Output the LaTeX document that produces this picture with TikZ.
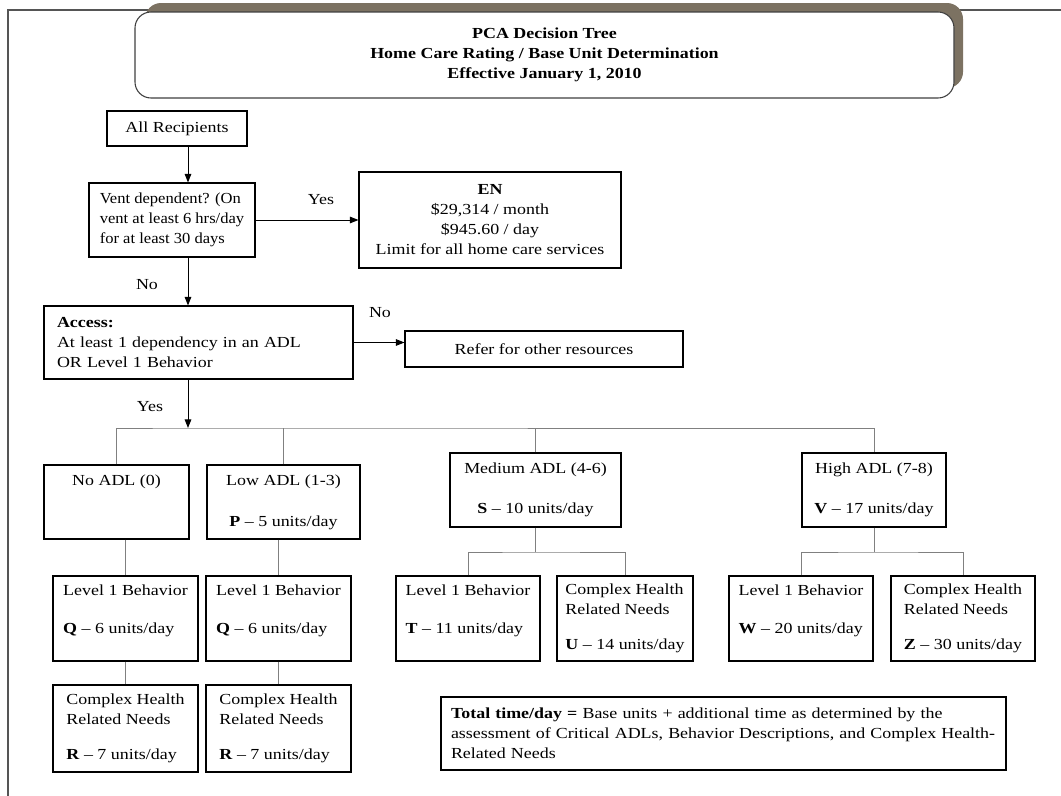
\documentclass[tikz,border=0pt]{standalone}
\usepackage{fontspec}
\setmainfont{Liberation Serif}[FakeStretch=1.17]
\newfontfamily\narrowserif{Liberation Serif}[FakeStretch=1.08]
\usetikzlibrary{arrows.meta}
\definecolor{treegray}{RGB}{128,128,128}
\definecolor{framegray}{RGB}{85,85,85}
\definecolor{shadowbrown}{RGB}{124,114,98}

\begin{document}
\begin{tikzpicture}[x=0.75pt,y=-0.75pt,
  font=\fontsize{11.5}{15}\selectfont,
  box/.style={draw,line width=0.8pt,inner sep=0pt,align=center},
  lbox/.style={box,align=left},
  arr/.style={line width=0.75pt,-{Triangle[length=6.5pt,width=5pt]}},
  tree/.style={treegray,line width=0.75pt}]
\useasboundingbox (0,0) rectangle (1061,796);

\draw[framegray,line width=1pt] (8,796) -- (8,10) -- (1061,10);

\fill[shadowbrown,rounded corners=12pt] (145,3) rectangle (963,88);
\node[draw=black!75,line width=0.8pt,fill=white,rounded corners=12pt,
  minimum width=614.25pt,minimum height=64.5pt,align=center,
  font=\fontsize{11.5}{15}\selectfont\bfseries] (title) at (544.5,55)
  {PCA Decision Tree\\Home Care Rating / Base Unit Determination\\Effective January 1, 2010};

\coordinate (trunk) at (188,0);
\coordinate (split) at (188,428);
\coordinate (mfork) at (535.5,552);
\coordinate (hfork) at (874,552);

\node[box,minimum width=105pt,minimum height=26.25pt] (allr) at (177,128.5) {All Recipients};
\node[lbox,minimum width=124.5pt,minimum height=55.5pt,
  font=\narrowserif\fontsize{11.5}{15}\selectfont] (vent) at (172,220)
  {Vent dependent? (On\\vent at least 6 hrs/day\\for at least 30 days};
\node[box,minimum width=196.5pt,minimum height=72pt] (en) at (490,220)
  {\textbf{EN}\\\$29,314 / month\\\$945.60 / day\\Limit for all home care services};
\node[lbox,text width=212.25pt,inner xsep=9.75pt,minimum height=54.75pt] (access) at (198.5,342.5)
  {\textbf{Access:}\\At least 1 dependency in an ADL\\OR Level 1 Behavior};
\node[box,minimum width=208.5pt,minimum height=27pt] (refer) at (544,349) {Refer for other resources};

\node (yes1) at (321,200) {Yes};
\node (no1) at (147,285) {No};
\node (no2) at (380,313) {No};
\node (yes2) at (150,407) {Yes};

\node[box,minimum width=108.75pt,minimum height=55.5pt] (noadl) at (116.5,502)
  {No ADL (0)\\[15.75pt]\phantom{\textbf{P} \textendash{} 5 units/day}};
\node[box,minimum width=114.75pt,minimum height=55.5pt] (lowadl) at (283.5,502)
  {Low ADL (1-3)\\[15.75pt]\textbf{P} \textendash{} 5 units/day};
\node[box,minimum width=128.25pt,minimum height=55.5pt] (medadl) at (535.5,490)
  {Medium ADL (4-6)\\[15pt]\textbf{S} \textendash{} 10 units/day};
\node[box,minimum width=108pt,minimum height=55.5pt] (highadl) at (874,490)
  {High ADL (7-8)\\[15pt]\textbf{V} \textendash{} 17 units/day};

\node[lbox,minimum width=108.75pt,minimum height=63.75pt] (beh1) at (125.5,618.5)
  {Level 1 Behavior\\[13.5pt]\textbf{Q} \textendash{} 6 units/day\\[-1pt]\mbox{}};
\node[lbox,minimum width=108.75pt,minimum height=63.75pt] (beh2) at (278.5,618.5)
  {Level 1 Behavior\\[13.5pt]\textbf{Q} \textendash{} 6 units/day\\[-1pt]\mbox{}};
\node[lbox,minimum width=108.75pt,minimum height=65.25pt] (chr1) at (125.5,728.5)
  {Complex Health\\Related Needs\\[11pt]\textbf{R} \textendash{} 7 units/day};
\node[lbox,minimum width=108.75pt,minimum height=65.25pt] (chr2) at (278.5,728.5)
  {Complex Health\\Related Needs\\[11pt]\textbf{R} \textendash{} 7 units/day};
\node[lbox,minimum width=108pt,minimum height=63.75pt] (beht) at (468,618.5)
  {Level 1 Behavior\\[13.5pt]\textbf{T} \textendash{} 11 units/day\\[-1pt]\mbox{}};
\node[lbox,minimum width=102pt,minimum height=63.75pt] (chru) at (625,618.5)
  {Complex Health\\Related Needs\\[11pt]\textbf{U} \textendash{} 14 units/day};
\node[lbox,minimum width=108pt,minimum height=63.75pt] (behw) at (801,618.5)
  {Level 1 Behavior\\[13.5pt]\textbf{W} \textendash{} 20 units/day\\[-1pt]\mbox{}};
\node[lbox,minimum width=108pt,minimum height=63.75pt] (chrz) at (963,618.5)
  {Complex Health\\Related Needs\\[11pt]\textbf{Z} \textendash{} 30 units/day};

\node[lbox,text width=408.75pt,inner xsep=7.5pt,minimum height=54.75pt] (total) at (723.5,733.5)
  {\textbf{Total time/day =} Base units + additional time as determined by the\\
   assessment of Critical ADLs, Behavior Descriptions, and Complex Health-\\
   Related Needs};

\draw[arr] (allr.south -| trunk) -- (vent.north -| trunk);
\draw[arr] (vent.east) -- (en.west);
\draw[arr] (vent.south -| trunk) -- (access.north -| trunk);
\draw[arr] (access.east) -- (access.east -| refer.west);

\draw[tree] (noadl.north) |- (split) -| (highadl.north);
\draw[tree] (lowadl.north) -- (lowadl.north |- split);
\draw[tree] (medadl.north) -- (medadl.north |- split);
\draw[arr] (access.south -| split) -- (split);

\draw[tree] (noadl.south -| beh1.north) -- (beh1.north);
\draw[tree] (beh1.south) -- (chr1.north);
\draw[tree] (lowadl.south -| beh2.north) -- (beh2.north);
\draw[tree] (beh2.south) -- (chr2.north);

\draw[tree] (medadl.south) -- (mfork);
\draw[tree] (beht.north) |- (mfork) -| (chru.north);
\draw[tree] (highadl.south) -- (hfork);
\draw[tree] (behw.north) |- (hfork) -| (chrz.north);
\end{tikzpicture}
\end{document}
